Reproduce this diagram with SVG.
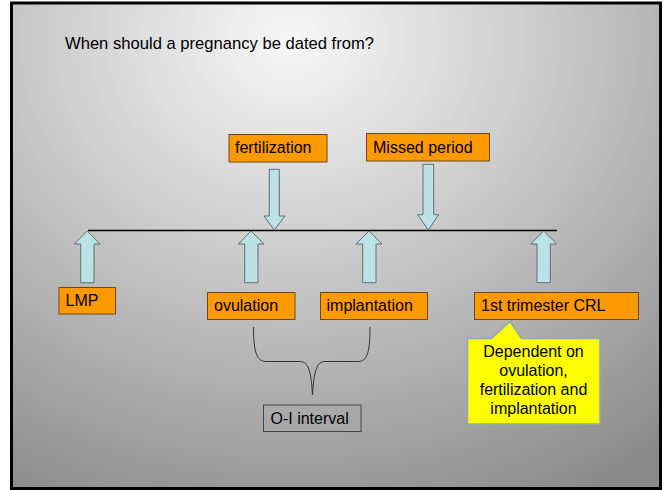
<svg xmlns="http://www.w3.org/2000/svg" width="667" height="490" viewBox="0 0 667 490">
  <defs>
    <radialGradient id="bg" gradientUnits="userSpaceOnUse" cx="290" cy="40" r="520" gradientTransform="translate(290 40) scale(1.15 1) translate(-290 -40)">
      <stop offset="0" stop-color="#f7f7f7"/>
      <stop offset="0.45" stop-color="#c8c8c8"/>
      <stop offset="1" stop-color="#8a8a8a"/>
    </radialGradient>
    <style>
      text { font-family: "Liberation Sans", Arial, sans-serif; font-size: 16px; fill: #000; }
      .box { fill: #ff9900; stroke: #6b4a1a; stroke-width: 1; }
      .arrow { fill: #bde2e6; stroke: #5f6f72; stroke-width: 1; }
      .line { fill: none; stroke: #000; stroke-width: 1.5; }
      .brace { fill: none; stroke: #333; stroke-width: 1; }
    </style>
  </defs>

  <rect x="11.5" y="3" width="649" height="485.5" fill="url(#bg)" stroke="#000" stroke-width="3"/>

  <text x="65" y="49" style="font-size:16.6px">When should a pregnancy be dated from?</text>

  <g id="connectors">
    <line class="line" x1="88" y1="230.5" x2="557" y2="230.5"/>
    <path class="arrow" d="M269.3,169.3 H279.3 V216 H285 L274.3,230 L264,216 H269.3 Z"/>
    <path class="arrow" d="M423,164.3 H433.7 V214.7 H438.7 L428.3,230 L417.7,214.7 H423 Z"/>
    <path class="arrow" d="M87.3,231 L100,244 H94 V282.7 H80.7 V244 H74.3 Z"/>
    <path class="arrow" d="M251,231 L264,244 H258 V282.7 H244.7 V244 H238.3 Z"/>
    <path class="arrow" d="M369,231 L382,244 H376 V282.7 H362.7 V244 H356 Z"/>
    <path class="arrow" d="M543.7,231 L556.7,244 H550.3 V282.7 H537 V244 H530.7 Z"/>
    <path class="brace" d="M253.5,327 C253.5,350 256,361.5 266,361.5 L300,361.5 C308,361.5 311,370 312.5,395 C314,370 317,361.5 325,361.5 L358,361.5 C368,361.5 370,350 370,327"/>
  </g>

  <g id="fertilization">
    <rect class="box" x="229" y="134.5" width="98" height="27.5"/>
    <text x="235" y="153">fertilization</text>
  </g>
  <g id="missed-period">
    <rect class="box" x="366.5" y="133.5" width="123" height="27.5"/>
    <text x="373" y="152.5">Missed period</text>
  </g>
  <g id="lmp">
    <rect class="box" x="59" y="287.5" width="56.5" height="26.5"/>
    <text x="65.5" y="305.5">LMP</text>
  </g>
  <g id="ovulation">
    <rect class="box" x="207.5" y="292.5" width="87.5" height="27"/>
    <text x="214" y="310.5">ovulation</text>
  </g>
  <g id="implantation">
    <rect class="box" x="320.5" y="292.5" width="107" height="27"/>
    <text x="326.5" y="310.5">implantation</text>
  </g>
  <g id="crl">
    <rect class="box" x="474.5" y="292.5" width="164" height="27"/>
    <text x="481" y="310.5">1st trimester CRL</text>
  </g>
  <g id="oi-interval">
    <rect x="263.5" y="405" width="97.5" height="26.5" fill="none" stroke="#444" stroke-width="1"/>
    <text x="270.5" y="424" fill="#111">O-I interval</text>
  </g>
  <g id="callout">
    <path d="M467.5,338.5 H491.5 L510,321.5 L521.5,338.5 H600 V424 H467.5 Z" fill="#ffff00" stroke="#8fa9b0" stroke-width="1.5"/>
    <text x="533.5" y="357" text-anchor="middle">Dependent on</text>
    <text x="533.5" y="376" text-anchor="middle">ovulation,</text>
    <text x="533.5" y="395" text-anchor="middle">fertilization and</text>
    <text x="533.5" y="413.5" text-anchor="middle">implantation</text>
  </g>
</svg>
